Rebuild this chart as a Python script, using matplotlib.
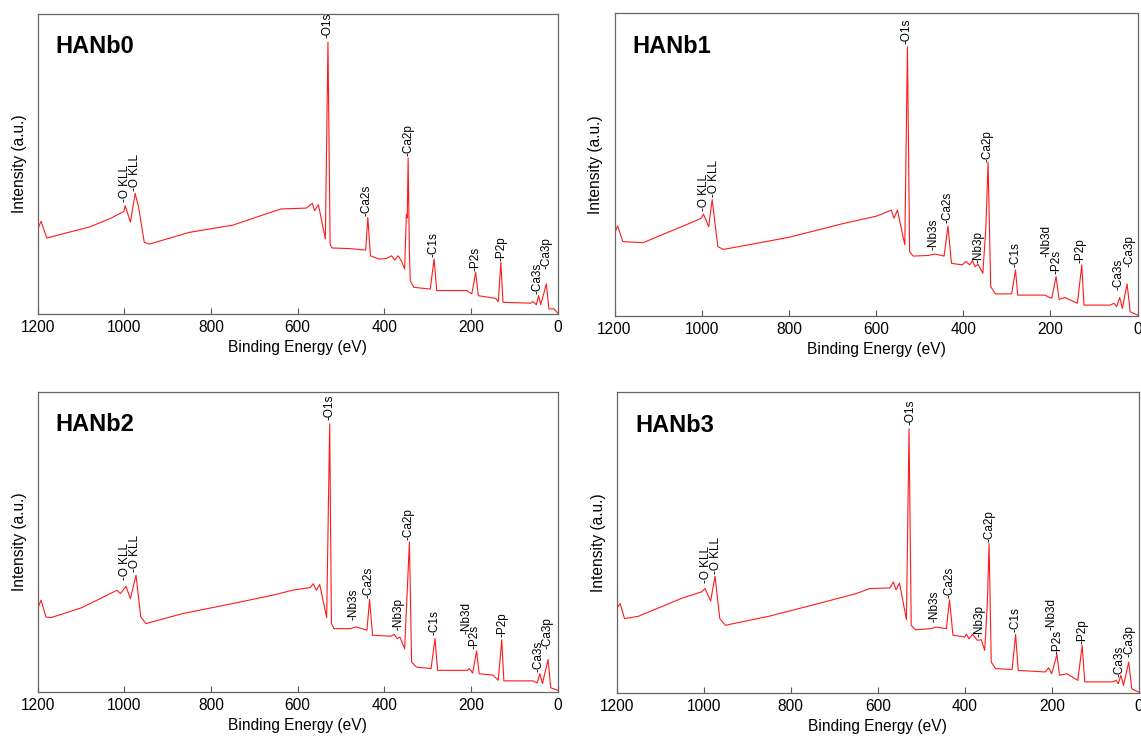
import matplotlib
matplotlib.use("Agg")
import matplotlib.pyplot as plt

plt.rcParams['font.family'] = ['Liberation Sans', 'DejaVu Sans']

# ---- spectra (binding energy in eV, intensity in a.u.) ----
hanb0_energy = [1200, 1192, 1179, 1140, 1080, 1030, 1001, 998, 986, 975, 967, 954, 942,
                850, 750, 639, 580, 566, 561, 552, 536, 530, 525, 521, 480, 443, 438,
                432, 412, 395, 383, 376, 368, 360, 353, 349, 347, 345, 342, 340, 332,
                294, 285, 279, 210, 198, 189, 183, 143, 137, 131, 126, 63, 57, 49, 44,
                39, 26, 20, 8, 0]
hanb0_counts = [28.3, 30.9, 25.3, 26.8, 29.0, 32.0, 34.2, 36.1, 30.6, 40.2, 35.6, 23.9, 23.3,
                27.2, 29.6, 35.0, 35.3, 36.9, 34.4, 36.4, 25.0, 90.6, 23.3, 22.0, 21.8, 21.3, 32.2,
                19.4, 18.3, 18.5, 19.4, 18.0, 19.4, 17.5, 15.0, 33.3, 32.0, 52.0, 20.0, 11.1, 8.9,
                8.3, 18.3, 7.8, 7.8, 6.7, 13.9, 6.1, 5.2, 4.1, 17.2, 3.9, 3.6, 4.1, 3.1, 6.1,
                3.1, 10.0, 1.7, 1.7, 0.3]

hanb1_energy = [1200, 1193, 1181, 1135, 1080, 1030, 1001, 996, 984, 976, 963, 950,
                800, 674, 599, 565, 559, 551, 534, 528, 523, 515, 480, 465, 444, 435,
                427, 402, 394, 385, 379, 373, 366, 355, 348, 343, 337, 326, 289, 280,
                275, 213, 197, 187, 180, 167, 138, 128, 123, 63, 54, 48, 41, 35, 24, 17, 0]
hanb1_counts = [27.3, 29.8, 24.6, 24.2, 27.5, 30.5, 32.3, 33.7, 29.5, 38.5, 22.9, 22.0,
                26.0, 30.6, 33.0, 35.0, 32.3, 35.0, 23.5, 89.0, 21.3, 19.8, 20.0, 20.5, 19.8, 29.7,
                17.4, 16.9, 18.0, 16.9, 18.3, 16.3, 17.1, 14.1, 29.5, 50.8, 9.7, 7.3, 7.3, 15.2,
                6.9, 6.9, 5.8, 13.0, 5.5, 6.1, 4.2, 16.9, 3.6, 3.6, 4.2, 3.1, 6.1, 2.5, 10.6, 1.4, 0.3]

hanb2_energy = [1200, 1192, 1181, 1169, 1100, 1050, 1017, 1009, 996, 986, 973, 962, 950,
                866, 739, 650, 613, 571, 564, 557, 549, 533, 526, 522, 516, 478, 465,
                440, 434, 427, 385, 377, 370, 364, 353, 347, 342, 337, 326, 292, 283,
                277, 208, 204, 196, 187, 181, 149, 137, 129, 124, 57, 47, 41, 35, 22, 16, 0]
hanb2_counts = [27.8, 30.6, 25.0, 24.8, 28.0, 31.5, 33.9, 32.8, 35.2, 31.1, 38.9, 25.0, 22.8,
                26.1, 29.8, 32.5, 33.9, 34.8, 36.1, 33.9, 35.8, 24.8, 89.4, 22.8, 21.1, 21.1, 21.7,
                20.6, 30.8, 18.9, 18.6, 19.2, 17.8, 18.3, 14.4, 33.9, 50.0, 10.0, 8.3, 7.8, 17.8,
                7.2, 7.2, 7.8, 6.3, 13.7, 6.1, 5.6, 3.9, 17.4, 3.7, 3.7, 3.0, 6.1, 2.8, 10.8, 1.4, 0.6]

hanb3_energy = [1200, 1192, 1182, 1150, 1100, 1050, 1005, 997, 984, 974, 963, 950,
                850, 750, 650, 618, 572, 564, 558, 550, 534, 528, 523, 513, 476, 467,
                442, 435, 427, 400, 396, 390, 382, 371, 362, 354, 348, 344, 339, 329,
                291, 283, 277, 215, 207, 200, 188, 182, 165, 140, 130, 124, 60, 52, 47,
                41, 35, 23, 16, 0]
hanb3_counts = [28.0, 29.7, 24.7, 25.5, 28.5, 31.5, 33.6, 34.7, 30.6, 38.8, 24.7, 22.5,
                25.5, 29.2, 33.0, 34.7, 34.9, 36.9, 34.3, 36.5, 24.4, 87.8, 22.5, 21.0, 21.4, 21.9,
                21.4, 31.0, 19.2, 18.6, 19.5, 18.0, 19.5, 17.5, 17.7, 14.2, 29.7, 49.6, 10.3, 8.1,
                7.8, 19.5, 7.5, 7.0, 8.4, 6.4, 12.8, 5.9, 6.4, 4.2, 15.8, 3.7, 3.7, 4.2, 3.1,
                5.9, 2.5, 10.3, 1.4, 0.3]

# ---- peak labels: name, energy, height of label base ----
hanb0_peaks = ["O KLL", "O KLL", "O1s", "Ca2s", "Ca2p", "C1s", "P2s", "P2p", "Ca3s", "Ca3p"]
hanb0_peak_e = [998, 975, 530, 441, 345, 286, 189, 130, 46, 25]
hanb0_peak_y = [37.2, 41.1, 92.0, 32.8, 52.8, 18.9, 14.4, 17.8, 6.7, 15.0]

hanb1_peaks = ["O KLL", "O KLL", "O1s", "Nb3s", "Ca2s", "Nb3p", "Ca2p", "C1s", "Nb3d",
               "P2s", "P2p", "Ca3s", "Ca3p"]
hanb1_peak_e = [995, 971, 530, 469, 437, 366, 345, 280, 209, 186, 130, 43, 19]
hanb1_peak_y = [34.8, 39.4, 90.0, 21.8, 30.6, 17.4, 51.0, 16.3, 19.6, 13.9, 17.4, 8.6, 16.3]

hanb2_peaks = hanb1_peaks
hanb2_peak_e = [998, 975, 527, 470, 436, 368, 343, 283, 211, 192, 128, 44, 23]
hanb2_peak_y = [37.2, 40.0, 90.6, 23.9, 31.4, 20.6, 50.6, 18.9, 19.4, 14.4, 18.3, 6.7, 14.4]

hanb3_peaks = hanb1_peaks
hanb3_peak_e = [995, 971, 524, 469, 434, 366, 344, 284, 201, 187, 129, 45, 22]
hanb3_peak_y = [36.5, 39.6, 88.9, 23.6, 31.7, 18.6, 50.2, 20.3, 20.8, 13.1, 16.4, 5.3, 12.0]

samples = ["HANb0", "HANb1", "HANb2", "HANb3"]
energies = [hanb0_energy, hanb1_energy, hanb2_energy, hanb3_energy]
counts = [hanb0_counts, hanb1_counts, hanb2_counts, hanb3_counts]
peak_names = [hanb0_peaks, hanb1_peaks, hanb2_peaks, hanb3_peaks]
peak_e = [hanb0_peak_e, hanb1_peak_e, hanb2_peak_e, hanb3_peak_e]
peak_y = [hanb0_peak_y, hanb1_peak_y, hanb2_peak_y, hanb3_peak_y]
xticks = [1200, 1000, 800, 600, 400, 200, 0]

# axes boxes in figure fraction (left, bottom, width, height)
boxes = [(0.0330, 0.5757, 0.4557, 0.4054),
         (0.5386, 0.5730, 0.4584, 0.4088),
         (0.0330, 0.0649, 0.4557, 0.4054),
         (0.5405, 0.0635, 0.4575, 0.4068)]

fig = plt.figure(figsize=(11.41, 7.40), dpi=100)

for i in range(4):
    ax = fig.add_axes(boxes[i])
    ax.plot(energies[i], counts[i], color='#ff1a1a', lw=0.8)
    for name, e, y in zip(peak_names[i], peak_e[i], peak_y[i]):
        ax.text(e, y, '-' + name, rotation=90, ha='center', va='bottom', fontsize=8.5)
    ax.text(0.035, 0.89, samples[i], transform=ax.transAxes, fontsize=17,
            fontweight='bold', ha='left', va='center')
    ax.set_xlim(1200, 0)
    ax.set_ylim(0, 100)
    ax.set_xticks(xticks)
    ax.set_yticks([])
    ax.tick_params(axis='x', direction='in', length=4.5, width=0.8, labelsize=11.2, pad=4,
                   color='#555555')
    for s in ax.spines.values():
        s.set_color('#666666')
        s.set_linewidth(0.9)
    ax.set_xlabel('Binding Energy (eV)', fontsize=11.2, labelpad=4)
    ax.set_ylabel('Intensity (a.u.)', fontsize=11.2, labelpad=8)

fig.savefig('out.png', dpi=100)
